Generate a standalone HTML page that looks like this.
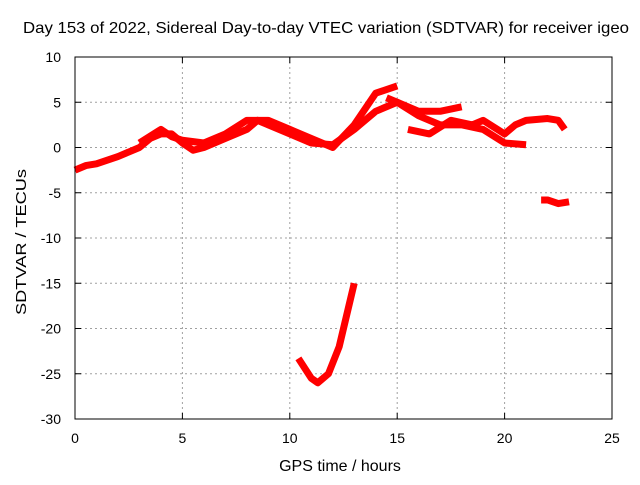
<!DOCTYPE html>
<html><head><meta charset="utf-8"><style>
body{margin:0;background:#fff}
svg{font-family:"Liberation Sans",sans-serif;font-size:14px}
.big{font-size:16px}
</style></head><body>
<svg id="c" width="640" height="480">
<text class="big" x="326" y="33" text-anchor="middle" textLength="606" lengthAdjust="spacingAndGlyphs">Day 153 of 2022, Sidereal Day-to-day VTEC variation (SDTVAR) for receiver igeo</text>
<text class="big" x="340" y="471" text-anchor="middle">GPS time / hours</text>
<text transform="translate(26,242) rotate(-90)" text-anchor="middle" style="font-size:15px" textLength="146" lengthAdjust="spacingAndGlyphs">SDTVAR / TECUs</text>
<g id="grid"></g><g id="marks"></g>
<rect x="75" y="57" width="537" height="362" fill="none" stroke="#000"/>
</svg>
<script>
const xTicks=[0,5,10,15,20,25];
const yTicks=[10,5,0,-5,-10,-15,-20,-25,-30];
const aH=[0,0.5,1,2,3,3.5,4,4.5,5,5.5,6,7,8,8.5,9,10,11,12,13,14,15,16,17,18,19,20,21];
const aV=[-2.5,-2,-1.8,-1,0,1,1.5,1.5,0.5,-0.3,0,1,2,3,2.5,1.5,0.5,0.3,2,4,5,3.5,2.5,2.5,2,0.5,0.3];
const bH=[3,4,4.5,5,6,7,8,9,10,11,12,13,14,15];
const bV=[0.5,2,1.2,0.8,0.5,1.5,3,3,2,1,0,2.5,6,6.8];
const cH=[14.5,15,16,17,18];
const cV=[5.5,5,4,4,4.5];
const dH=[15.5,16.5,17.5,18.5,19,20,20.5,21,22,22.5,22.8];
const dV=[2,1.5,3,2.5,3,1.5,2.5,3,3.2,3,2];
const eH=[21.7,22,22.5,23];
const eV=[-5.8,-5.8,-6.2,-6];
const fH=[10.4,11,11.3,11.8,12.3,12.8,13];
const fV=[-23.3,-25.5,-26,-25,-22,-17,-15];
const X=h=>75+h*537/25, Y=v=>57+(10-v)*362/40;
const NS="http://www.w3.org/2000/svg";
const g=document.getElementById('grid'), m=document.getElementById('marks'), svg=document.getElementById('c');
xTicks.forEach(t=>{
 const x=X(t);
 if(t>0&&t<25){const l=document.createElementNS(NS,'line');l.setAttribute('x1',x);l.setAttribute('x2',x);l.setAttribute('y1',57);l.setAttribute('y2',419);l.setAttribute('stroke','#a0a0a0');l.setAttribute('stroke-dasharray','2,3');
 
 g.appendChild(l);}
 const tk=document.createElementNS(NS,'path');tk.setAttribute('d',`M${x} 419v-6M${x} 57v6`);tk.setAttribute('stroke','#000');
 
 g.appendChild(tk);
 const tx=document.createElementNS(NS,'text');tx.setAttribute('x',x);tx.setAttribute('y',443);tx.setAttribute('text-anchor','middle');tx.textContent=t;
 
 svg.appendChild(tx);
});
yTicks.forEach(t=>{
 const y=Y(t);
 if(t<10&&t>-30){const l=document.createElementNS(NS,'line');l.setAttribute('x1',75);l.setAttribute('x2',612);l.setAttribute('y1',y);l.setAttribute('y2',y);l.setAttribute('stroke','#a0a0a0');l.setAttribute('stroke-dasharray','2,3');
 
 g.appendChild(l);}
 const tk=document.createElementNS(NS,'path');tk.setAttribute('d',`M75 ${y}h6M612 ${y}h-6`);tk.setAttribute('stroke','#000');
 
 g.appendChild(tk);
 const tx=document.createElementNS(NS,'text');tx.setAttribute('x',61);tx.setAttribute('y',y+5);tx.setAttribute('text-anchor','end');tx.textContent=t;
 
 svg.appendChild(tx);
});
[[aH,aV,'series-main-lower'],[bH,bV,'series-main-upper'],[cH,cV,'series-afternoon-upper'],[dH,dV,'series-afternoon-lower'],[eH,eV,'series-late-negative'],[fH,fV,'series-dip']].forEach(([h,v,n])=>{
 const p=document.createElementNS(NS,'polyline');
 p.setAttribute('points',h.map((t,i)=>X(t)+','+Y(v[i])).join(' '));
 p.setAttribute('fill','none');p.setAttribute('stroke','#ff0000');p.setAttribute('stroke-width','7');p.setAttribute('stroke-linejoin','round');
 
 
 m.appendChild(p);
});
</script>
</body></html>
